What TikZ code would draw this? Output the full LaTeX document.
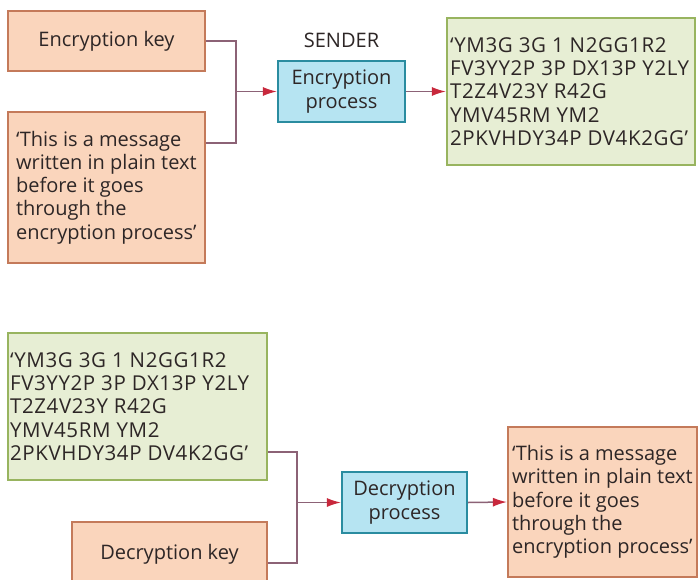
\documentclass[tikz,border=0pt]{standalone}
\usepackage{fontspec}
\setmainfont{Open Sans}
\newfontfamily\ciphfont[LetterSpace=3]{Open Sans}
\usetikzlibrary{arrows.meta,calc}
\definecolor{orfill}{RGB}{250,213,188}
\definecolor{ordraw}{RGB}{196,122,90}
\definecolor{grfill}{RGB}{231,238,212}
\definecolor{grdraw}{RGB}{152,180,95}
\definecolor{blfill}{RGB}{182,228,242}
\definecolor{bldraw}{RGB}{42,140,160}
\definecolor{linecol}{RGB}{140,98,118}
\definecolor{tipcol}{RGB}{200,40,60}
\definecolor{txtcol}{RGB}{45,38,38}
\begin{document}
\begin{tikzpicture}[x=1pt,y=-1pt,
  every node/.style={font=\fontsize{20}{23.3}\selectfont, text=txtcol},
  box/.style={draw, line width=2.2pt, inner sep=0pt},
  orbox/.style={box, fill=orfill, draw=ordraw},
  grbox/.style={box, fill=grfill, draw=grdraw},
  blbox/.style={box, fill=blfill, draw=bldraw, align=center},
  txt/.style={align=left, anchor=west, inner sep=0pt},
  ciph/.style={txt, font=\ciphfont\fontsize{20.5}{23.3}\selectfont},
  conn/.style={draw=linecol, line width=1.5pt},
  arr/.style={conn, -{Latex[length=14pt,width=9pt,color=tipcol]}}
]
\useasboundingbox (0,0) rectangle (698,580);
\fill[white] (0,0) rectangle (698,580);
% upper half
\node[orbox, minimum width=197pt, minimum height=60pt] (keyE) at (106.5,41) {Encryption key};
\node[orbox, minimum width=197pt, minimum height=151pt] (plainE) at (106.5,187.5) {};
\node[txt] (plainEt) at ($(plainE.west)+(9,0)$) {‘This is a message\\written in plain text\\before it goes\\through the\\encryption process’};
\node (sender) at (341.5,40) {SENDER};
\node[blbox, minimum width=127pt, minimum height=61pt] (encP) at (341.5,91.5) {Encryption\\process};
\node[grbox, minimum width=248pt, minimum height=147pt] (cipherE) at (571,91.5) {};
\node[ciph] (cipherEt) at ($(cipherE.west)+(4,0)$) {‘YM3G 3G 1 N2GG1R2\\FV3YY2P 3P DX13P Y2LY\\T2Z4V23Y R42G\\YMV45RM YM2\\2PKVHDY34P DV4K2GG’};
\coordinate (jE) at (236,91.5);
\coordinate (pE) at (plainE.east |- 0,143);
\draw[conn] (keyE.east) -| (jE);
\draw[conn] (pE) -| (jE);
\draw[arr] (jE) -- (encP.west);
\draw[arr] (encP.east) -- (cipherE.west);
% lower half
\node[grbox, minimum width=259pt, minimum height=147pt] (cipherD) at (137.5,406.5) {};
\node[ciph] (cipherDt) at ($(cipherD.west)+(3,0)$) {‘YM3G 3G 1 N2GG1R2\\FV3YY2P 3P DX13P Y2LY\\T2Z4V23Y R42G\\YMV45RM YM2\\2PKVHDY34P DV4K2GG’};
\node[orbox, minimum width=195pt, minimum height=64pt] (keyD) at (169.5,554) {Decryption key};
\node[blbox, minimum width=125pt, minimum height=61pt] (decP) at (404.5,502.5) {Decryption\\process};
\node[orbox, minimum width=189pt, minimum height=150pt] (plainD) at (602.5,502) {};
\node[txt] (plainDt) at ($(plainD.west)+(5,0)$) {‘This is a message\\written in plain text\\before it goes\\through the\\encryption process’};
\coordinate (jD) at (297,502.5);
\coordinate (cD) at (cipherD.east |- 0,452);
\coordinate (kD) at (keyD.east |- 0,563);
\draw[conn] (cD) -| (jD);
\draw[conn] (kD) -| (jD);
\draw[arr] (jD) -- (decP.west);
\draw[arr] (decP.east) -- (plainD.west);
\end{tikzpicture}
\end{document}
